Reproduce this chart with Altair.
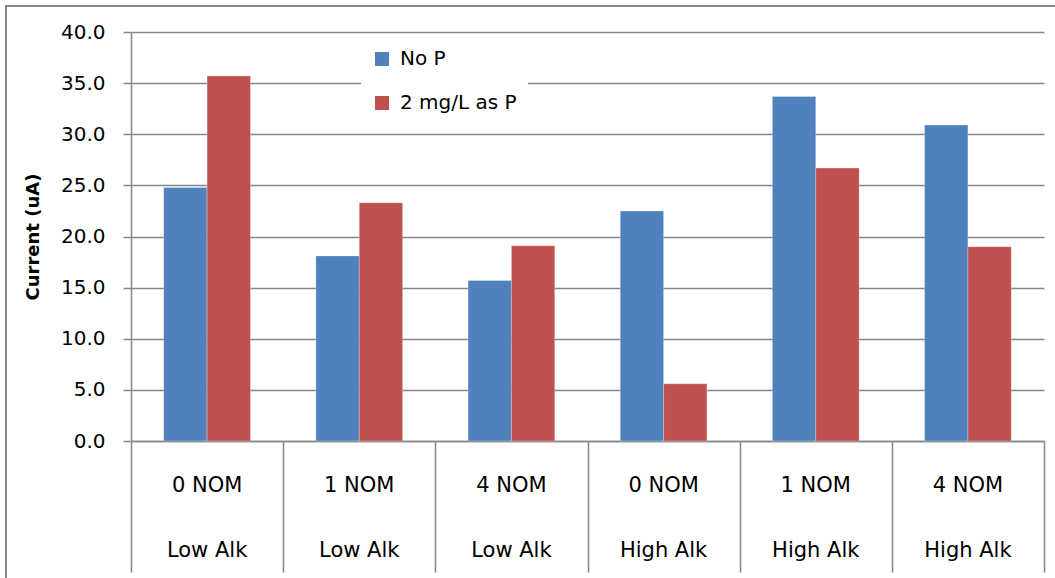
import altair as alt
import pandas as pd

# Clustered bars: current under each NOM / alkalinity condition, with and without phosphate
nom_levels = ["0 NOM", "1 NOM", "4 NOM", "0 NOM", "1 NOM", "4 NOM"]
alk_levels = ["Low Alk", "Low Alk", "Low Alk", "High Alk", "High Alk", "High Alk"]
no_p = [24.8, 18.1, 15.7, 22.5, 33.7, 30.9]
with_p = [35.7, 23.3, 19.1, 5.6, 26.7, 19.0]
series_names = ["No P", "2 mg/L as P"]
series_colors = ["#4F81BD", "#C0504D"]
y_ticks = [0, 5, 10, 15, 20, 25, 30, 35, 40]

keys = [f"{n} {a}" for n, a in zip(nom_levels, alk_levels)]

rows = []
for k, n, a, v1, v2 in zip(keys, nom_levels, alk_levels, no_p, with_p):
    rows.append({"key": k, "nom": n, "alk": a, "series": series_names[0], "current": v1})
    rows.append({"key": k, "nom": n, "alk": a, "series": series_names[1], "current": v2})
bars_df = pd.DataFrame(rows)
labels_df = pd.DataFrame({"key": keys, "nom": nom_levels, "alk": alk_levels})

FONT = "DejaVu Sans"
GRAY = "#878787"
W, H = 913, 409

bars = alt.Chart(bars_df).mark_bar(stroke="#ffffff", strokeOpacity=0.35, strokeWidth=0.8).encode(
    x=alt.X(
        "key:N",
        scale=alt.Scale(domain=keys, paddingInner=0.43, paddingOuter=0.215),
        sort=keys,
        axis=None,
    ),
    xOffset=alt.XOffset(
        "series:N",
        sort=series_names,
        scale=alt.Scale(domain=series_names, paddingInner=0, paddingOuter=0),
    ),
    y=alt.Y(
        "current:Q",
        scale=alt.Scale(domain=[0, 40], nice=False),
        axis=alt.Axis(
            title="Current (uA)",
            values=y_ticks,
            format=".1f",
            grid=True,
            gridColor=GRAY,
            gridWidth=1.5,
            domainColor=GRAY,
            domainWidth=1.5,
            tickColor=GRAY,
            tickWidth=1.5,
            tickSize=8,
            labelPadding=18,
            labelFont=FONT,
            labelFontSize=20,
            labelColor="#000000",
            titleFont=FONT,
            titleFontSize=18,
            titleFontWeight="bold",
            titleColor="#000000",
            titleAngle=270,
            titleAlign="center",
            titleBaseline="middle",
            titleX=-98,
            titleY=H / 2,
        ),
    ),
    color=alt.Color(
        "series:N",
        sort=series_names,
        scale=alt.Scale(domain=series_names, range=series_colors),
        legend=alt.Legend(
            title=None,
            orient="none",
            legendX=230,
            legendY=6,
            fillColor="#ffffff",
            padding=11,
            symbolType="square",
            symbolSize=196,
            symbolStrokeWidth=0,
            labelFont=FONT,
            labelFontSize=20,
            labelColor="#000000",
            labelOffset=8,
            rowPadding=24,
        ),
    ),
)

# Two-level category axis: unpadded band scale so the dividers fall on step boundaries
cat_scale = alt.Scale(domain=keys, paddingInner=0, paddingOuter=0)
cat_axis = alt.Axis(
    title=None,
    labels=False,
    tickBand="extent",
    tickSize=131,
    tickColor=GRAY,
    tickWidth=1.5,
    domainColor=GRAY,
    domainWidth=1.5,
)

nom_text = alt.Chart(labels_df).mark_text(
    font=FONT, fontSize=21, color="#000000", baseline="alphabetic"
).encode(
    x=alt.X("key:N", scale=cat_scale, sort=keys, axis=cat_axis),
    y=alt.value(460),
    text="nom:N",
)

alk_text = alt.Chart(labels_df).mark_text(
    font=FONT, fontSize=21, color="#000000", baseline="alphabetic"
).encode(
    x=alt.X("key:N", scale=cat_scale, sort=keys, axis=cat_axis),
    y=alt.value(525),
    text="alk:N",
)

labels = alt.layer(nom_text, alk_text)

# chart-area frame (top and left edges visible)
frame = alt.Chart(pd.DataFrame({"f": [0]})).mark_rect(
    filled=False, stroke=GRAY, strokeWidth=2
).encode(
    x=alt.value(-125),
    x2=alt.value(W + 30),
    y=alt.value(-26),
    y2=alt.value(H + 160),
)

chart = (
    alt.layer(frame, bars, labels)
    .resolve_scale(x="independent")
    .properties(
        width=W,
        height=H,
        autosize=alt.AutoSizeParams(type="none"),
        padding={"left": 131, "top": 32, "right": 11, "bottom": 137},
        background="#ffffff",
    )
    .configure_view(stroke=None)
)

chart.save("out.html", embed_options={"renderer": "svg", "actions": False})
